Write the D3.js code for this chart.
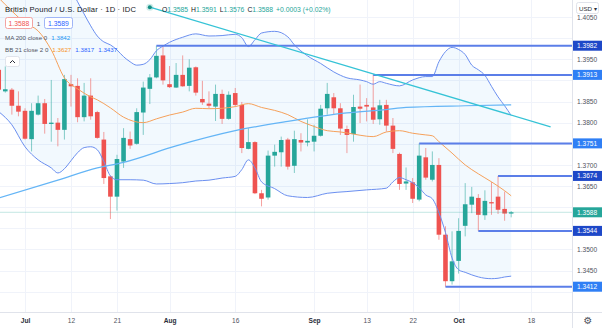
<!DOCTYPE html>
<html>
<head>
<meta charset="utf-8">
<script src="https://cdn.jsdelivr.net/npm/d3@7"></script>
<style>
  html, body { margin: 0; padding: 0; background: #ffffff; }
  svg { display: block; font-family: "Liberation Sans", Arial, sans-serif; }
</style>
</head>
<body>
<svg id="chart" width="602" height="328"></svg>
<script>
// Trading days shown on the time axis (the last few are empty future slots)
const days = [
  "2021-06-25","2021-06-28","2021-06-29","2021-06-30","2021-07-01","2021-07-02",
  "2021-07-05","2021-07-06","2021-07-07","2021-07-08","2021-07-09","2021-07-12",
  "2021-07-13","2021-07-14","2021-07-15","2021-07-16","2021-07-19","2021-07-20",
  "2021-07-21","2021-07-22","2021-07-23","2021-07-26","2021-07-27","2021-07-28",
  "2021-07-29","2021-07-30","2021-08-02","2021-08-03","2021-08-04","2021-08-05",
  "2021-08-06","2021-08-09","2021-08-10","2021-08-11","2021-08-12","2021-08-13",
  "2021-08-16","2021-08-17","2021-08-18","2021-08-19","2021-08-20","2021-08-23",
  "2021-08-24","2021-08-25","2021-08-26","2021-08-27","2021-08-30","2021-08-31",
  "2021-09-01","2021-09-02","2021-09-03","2021-09-06","2021-09-07","2021-09-08",
  "2021-09-09","2021-09-10","2021-09-13","2021-09-14","2021-09-15","2021-09-16",
  "2021-09-17","2021-09-20","2021-09-21","2021-09-22","2021-09-23","2021-09-24",
  "2021-09-27","2021-09-28","2021-09-29","2021-09-30","2021-10-01","2021-10-04",
  "2021-10-05","2021-10-06","2021-10-07","2021-10-08","2021-10-11","2021-10-12",
  "2021-10-13","2021-10-14","2021-10-15","2021-10-18","2021-10-19","2021-10-20",
  "2021-10-21","2021-10-22"
];

// Daily GBP/USD candles, one value per trading day from 2021-06-25
const opens = [
  1.3925,1.3874,1.3878,1.3840,1.3828,1.3761,1.3819,1.3846,1.3797,1.3800,
  1.3783,1.3891,1.3887,1.3813,1.3864,1.3825,1.3760,1.3673,1.3625,1.3708,
  1.3761,1.3750,1.3824,1.3880,1.3907,1.3959,1.3891,1.3883,1.3913,1.3887,
  1.3931,1.3856,1.3845,1.3838,1.3868,1.3809,1.3870,1.3842,1.3738,1.3754,
  1.3633,1.3623,1.3722,1.3730,1.3760,1.3698,1.3759,1.3753,1.3755,1.3769,
  1.3834,1.3860,1.3834,1.3785,1.3773,1.3838,1.3842,1.3836,1.3808,1.3842,
  1.3793,1.3726,1.3656,1.3659,1.3618,1.3718,1.3665,1.3700,1.3535,1.3425,
  1.3473,1.3556,1.3606,1.3622,1.3581,1.3612,1.3625,1.3596,1.3585
];
const highs = [
  1.3930,1.3933,1.3882,1.3874,1.3834,1.3846,1.3864,1.3856,1.3901,1.3811,
  1.3913,1.3913,1.3905,1.3894,1.3905,1.3828,1.3778,1.3675,1.3724,1.3787,
  1.3779,1.3834,1.3897,1.3915,1.3982,1.3979,1.3934,1.3941,1.3959,1.3950,
  1.3933,1.3899,1.3874,1.3890,1.3878,1.3874,1.3882,1.3849,1.3787,1.3756,
  1.3641,1.3734,1.3748,1.3767,1.3764,1.3781,1.3775,1.3808,1.3795,1.3842,
  1.3894,1.3870,1.3846,1.3793,1.3866,1.3890,1.3858,1.3913,1.3854,1.3854,
  1.3811,1.3729,1.3694,1.3669,1.3751,1.3740,1.3732,1.3716,1.3555,1.3543,
  1.3574,1.3657,1.3648,1.3631,1.3640,1.3660,1.3674,1.3637,1.3591
];
const lows = [
  1.3873,1.3871,1.3819,1.3815,1.3760,1.3732,1.3817,1.3774,1.3755,1.3744,
  1.3760,1.3838,1.3801,1.3803,1.3807,1.3762,1.3655,1.3572,1.3592,1.3693,
  1.3738,1.3748,1.3771,1.3844,1.3905,1.3890,1.3882,1.3882,1.3885,1.3874,
  1.3864,1.3842,1.3834,1.3804,1.3797,1.3807,1.3838,1.3728,1.3737,1.3631,
  1.3602,1.3618,1.3696,1.3696,1.3689,1.3681,1.3732,1.3744,1.3732,1.3767,
  1.3819,1.3820,1.3771,1.3728,1.3755,1.3799,1.3803,1.3797,1.3795,1.3779,
  1.3728,1.3641,1.3641,1.3610,1.3614,1.3665,1.3661,1.3523,1.3412,1.3417,
  1.3443,1.3531,1.3586,1.3544,1.3570,1.3582,1.3584,1.3568,1.3576
];
const closes = [
  1.3878,1.3879,1.3840,1.3826,1.3762,1.3828,1.3846,1.3797,1.3800,1.3783,
  1.3903,1.3886,1.3813,1.3864,1.3815,1.3764,1.3669,1.3625,1.3714,1.3764,
  1.3746,1.3825,1.3883,1.3907,1.3958,1.3900,1.3884,1.3913,1.3886,1.3930,
  1.3871,1.3848,1.3840,1.3868,1.3809,1.3866,1.3842,1.3740,1.3754,1.3633,
  1.3620,1.3722,1.3731,1.3759,1.3696,1.3761,1.3753,1.3757,1.3769,1.3833,
  1.3868,1.3834,1.3786,1.3771,1.3837,1.3833,1.3838,1.3807,1.3841,1.3793,
  1.3738,1.3655,1.3661,1.3620,1.3722,1.3670,1.3700,1.3535,1.3425,1.3472,
  1.3544,1.3607,1.3625,1.3582,1.3615,1.3609,1.3594,1.3585,1.3588
];

// Moving average (200, close)
const ma200 = [
  ["2021-06-25",1.3622],["2021-07-08",1.3664],["2021-07-16",1.3693],["2021-07-22",1.3706],
  ["2021-08-03",1.3745],["2021-08-16",1.3781],["2021-08-26",1.3803],["2021-09-08",1.3823],
  ["2021-09-16",1.3831],["2021-09-21",1.3836],["2021-10-04",1.3840],["2021-10-13",1.3842]
];

// Bollinger bands (21, 2): basis, upper and lower
const bbBasis = [
  ["2021-06-25",1.4095],["2021-06-29",1.4064],["2021-07-01",1.4036],["2021-07-05",1.4017],
  ["2021-07-07",1.3972],["2021-07-09",1.3906],["2021-07-13",1.3880],["2021-07-15",1.3861],
  ["2021-07-16",1.3854],["2021-07-20",1.3835],["2021-07-22",1.3813],["2021-07-27",1.3800],
  ["2021-07-29",1.3809],["2021-08-02",1.3818],["2021-08-04",1.3825],["2021-08-06",1.3834],
  ["2021-08-10",1.3833],["2021-08-12",1.3834],["2021-08-16",1.3838],["2021-08-18",1.3845],
  ["2021-08-20",1.3836],["2021-08-24",1.3829],["2021-08-26",1.3819],["2021-08-30",1.3803],
  ["2021-09-01",1.3791],["2021-09-03",1.3781],["2021-09-07",1.3778],["2021-09-09",1.3773],
  ["2021-09-13",1.3768],["2021-09-14",1.3767],["2021-09-16",1.3778],["2021-09-20",1.3781],
  ["2021-09-22",1.3775],["2021-09-24",1.3771],["2021-09-27",1.3769],["2021-09-28",1.3755],
  ["2021-09-30",1.3728],["2021-10-04",1.3700],["2021-10-06",1.3679],["2021-10-08",1.3660],
  ["2021-10-12",1.3639],["2021-10-13",1.3627]
];
const bbUpper = [
  ["2021-06-25",1.4250],["2021-07-05",1.4200],["2021-07-12",1.4116],["2021-07-13",1.4086],
  ["2021-07-14",1.4057],["2021-07-15",1.4029],["2021-07-16",1.4005],["2021-07-19",1.3991],
  ["2021-07-20",1.3984],["2021-07-21",1.3972],["2021-07-22",1.3956],["2021-07-23",1.3944],
  ["2021-07-26",1.3936],["2021-07-27",1.3938],["2021-07-28",1.3949],["2021-07-29",1.3970],
  ["2021-07-30",1.3981],["2021-08-02",1.3990],["2021-08-04",1.4002],["2021-08-06",1.4010],
  ["2021-08-10",1.4005],["2021-08-12",1.4006],["2021-08-16",1.4009],["2021-08-17",1.4001],
  ["2021-08-18",1.3980],["2021-08-19",1.3996],["2021-08-20",1.4012],["2021-08-24",1.4016],
  ["2021-08-26",1.4003],["2021-08-27",1.3984],["2021-08-31",1.3958],["2021-09-02",1.3940],
  ["2021-09-06",1.3920],["2021-09-08",1.3906],["2021-09-10",1.3901],["2021-09-13",1.3897],
  ["2021-09-14",1.3891],["2021-09-15",1.3897],["2021-09-16",1.3893],["2021-09-20",1.3887],
  ["2021-09-22",1.3901],["2021-09-24",1.3909],["2021-09-27",1.3909],["2021-09-28",1.3944],
  ["2021-09-29",1.3968],["2021-09-30",1.3978],["2021-10-01",1.3973],["2021-10-04",1.3961],
  ["2021-10-05",1.3936],["2021-10-06",1.3925],["2021-10-07",1.3912],["2021-10-08",1.3886],
  ["2021-10-11",1.3861],["2021-10-12",1.3840],["2021-10-13",1.3817]
];
const bbLower = [
  ["2021-06-25",1.3826],["2021-06-29",1.3795],["2021-07-01",1.3743],["2021-07-05",1.3712],
  ["2021-07-07",1.3693],["2021-07-08",1.3681],["2021-07-09",1.3691],["2021-07-12",1.3710],
  ["2021-07-13",1.3729],["2021-07-14",1.3741],["2021-07-15",1.3743],["2021-07-16",1.3736],
  ["2021-07-19",1.3708],["2021-07-20",1.3674],["2021-07-21",1.3665],["2021-07-23",1.3665],
  ["2021-07-27",1.3664],["2021-07-29",1.3655],["2021-08-02",1.3656],["2021-08-04",1.3658],
  ["2021-08-06",1.3662],["2021-08-10",1.3664],["2021-08-12",1.3669],["2021-08-16",1.3673],
  ["2021-08-17",1.3689],["2021-08-18",1.3712],["2021-08-19",1.3693],["2021-08-20",1.3660],
  ["2021-08-24",1.3644],["2021-08-26",1.3627],["2021-08-31",1.3623],["2021-09-03",1.3633],
  ["2021-09-08",1.3637],["2021-09-13",1.3641],["2021-09-16",1.3645],["2021-09-17",1.3660],
  ["2021-09-20",1.3670],["2021-09-21",1.3665],["2021-09-22",1.3658],["2021-09-23",1.3646],
  ["2021-09-24",1.3629],["2021-09-27",1.3620],["2021-09-28",1.3587],["2021-09-29",1.3540],
  ["2021-09-30",1.3480],["2021-10-01",1.3452],["2021-10-04",1.3446],["2021-10-05",1.3440],
  ["2021-10-07",1.3432],["2021-10-08",1.3431],["2021-10-11",1.3432],["2021-10-12",1.3435],
  ["2021-10-13",1.3437]
];

// Descending trend line
const trendLine = [["2021-07-28",1.4073],["2021-10-21",1.3790]];

// Horizontal support / resistance levels and the day each one starts
const levelDates  = ["2021-07-29","2021-09-14","2021-09-23","2021-10-11","2021-10-06","2021-09-29"];
const levelValues = [1.3982, 1.3913, 1.3751, 1.3674, 1.3544, 1.3412];

// Axis ticks
const priceTicks = [1.3400,1.3450,1.3500,1.3550,1.3600,1.3650,1.3700,1.3750,1.3800,1.3850,1.3900,1.3950,1.4000,1.4050];
const timeTickDates  = ["2021-07-01","2021-07-12","2021-07-21","2021-08-02","2021-08-16","2021-09-01","2021-09-13","2021-09-22","2021-10-01","2021-10-18"];
const timeTickLabels = ["Jul","12","21","Aug","16","Sep","13","22","Oct","18"];

// ---------------------------------------------------------------------------
const W = 602, H = 328, PLOT_R = 572, PLOT_B = 312;
const UP = "#26a69a", DOWN = "#ef5350";
const fmt = d3.format(".4f");

const svg = d3.select("#chart");
svg.append("defs").append("clipPath").attr("id", "plot-clip")
  .append("rect").attr("x", 0).attr("y", 0).attr("width", PLOT_R).attr("height", PLOT_B);

const dayIndex = new Map(days.map((d, i) => [d, i]));
const step = 6.57;
const x = d3.scaleLinear().domain([0, days.length - 1]).range([-1.28, -1.28 + (days.length - 1) * step]);
const y = d3.scaleLinear().domain([1.34, 1.40]).range([291.78, 38.1]);
const xd = d => x(dayIndex.get(d));

// grid
const grid = svg.append("g");
grid.selectAll("line.h").data(priceTicks).join("line")
  .attr("x1", 0).attr("x2", PLOT_R)
  .attr("y1", d => Math.round(y(d)) + 0.5).attr("y2", d => Math.round(y(d)) + 0.5)
  .attr("stroke", "#f0f3fa").attr("stroke-width", 1);
grid.selectAll("line.v").data(timeTickDates).join("line")
  .attr("x1", d => Math.round(xd(d)) + 0.5).attr("x2", d => Math.round(xd(d)) + 0.5)
  .attr("y1", 0).attr("y2", PLOT_B)
  .attr("stroke", "#f0f3fa").attr("stroke-width", 1);

const plot = svg.append("g").attr("clip-path", "url(#plot-clip)");

// Bollinger fill between upper and lower band
const ptLine = d3.line().x(p => xd(p[0])).y(p => y(p[1]));
const fillPts = bbUpper.concat(bbLower.slice().reverse());
plot.append("path").attr("d", ptLine(fillPts) + "Z")
  .attr("fill", "rgba(33,150,243,0.06)").attr("stroke", "none");

// candles
const candles = opens.map((o, i) => ({ d: days[i], o, h: highs[i], l: lows[i], c: closes[i] }));
const cg = plot.append("g");
cg.selectAll("line.wick").data(candles).join("line")
  .attr("x1", d => xd(d.d)).attr("x2", d => xd(d.d))
  .attr("y1", d => y(d.h)).attr("y2", d => y(d.l))
  .attr("stroke", d => d.c >= d.o ? UP : DOWN)
  .attr("stroke-opacity", 0.55).attr("stroke-width", 1);
cg.selectAll("rect.body").data(candles).join("rect")
  .attr("x", d => xd(d.d) - 2.3).attr("width", 4.6)
  .attr("y", d => y(Math.max(d.o, d.c)))
  .attr("height", d => Math.max(1.2, Math.abs(y(d.o) - y(d.c))))
  .attr("fill", d => d.c >= d.o ? UP : DOWN);

// indicator lines
const smooth = d3.line().x(p => xd(p[0])).y(p => y(p[1])).curve(d3.curveMonotoneX);
plot.append("path").attr("d", smooth(bbUpper)).attr("fill", "none").attr("stroke", "#6b8ff0").attr("stroke-width", 1);
plot.append("path").attr("d", smooth(bbLower)).attr("fill", "none").attr("stroke", "#6b8ff0").attr("stroke-width", 1);
plot.append("path").attr("d", smooth(bbBasis)).attr("fill", "none").attr("stroke", "#f6a15b").attr("stroke-width", 1);
plot.append("path").attr("d", smooth(ma200)).attr("fill", "none").attr("stroke", "#64b5f6").attr("stroke-width", 1.2);

// last price line
const last = closes[closes.length - 1];
plot.append("line").attr("x1", 0).attr("x2", PLOT_R)
  .attr("y1", y(last)).attr("y2", y(last))
  .attr("stroke", "rgba(38,166,154,0.28)").attr("stroke-width", 1);

// horizontal levels
plot.selectAll("line.level").data(levelValues).join("line")
  .attr("x1", (d, i) => xd(levelDates[i])).attr("x2", PLOT_R)
  .attr("y1", d => y(d)).attr("y2", d => y(d))
  .attr("stroke", "#5b7ee8").attr("stroke-width", 2);

// trend line
plot.append("path").attr("d", ptLine(trendLine)).attr("fill", "none")
  .attr("stroke", "#35c3d6").attr("stroke-width", 1.3);
plot.append("circle").attr("cx", xd(trendLine[0][0])).attr("cy", y(trendLine[0][1]))
  .attr("r", 3.6).attr("fill", "rgba(38,166,154,0.22)");
plot.append("circle").attr("cx", xd(trendLine[0][0])).attr("cy", y(trendLine[0][1]))
  .attr("r", 2).attr("fill", "#138f84");

// axes frame
svg.append("line").attr("x1", PLOT_R + 0.5).attr("x2", PLOT_R + 0.5).attr("y1", 0).attr("y2", H)
  .attr("stroke", "#e0e3eb");
svg.append("line").attr("x1", 0).attr("x2", W).attr("y1", PLOT_B + 0.5).attr("y2", PLOT_B + 0.5)
  .attr("stroke", "#e0e3eb");

// price axis: tick labels that would sit under a level badge are left out
const badgeValues = levelValues.concat([last]);
const freeTicks = priceTicks.filter(t => badgeValues.every(v => Math.abs(y(t) - y(v)) > 9));
const yAxis = d3.axisRight(y).tickValues(freeTicks).tickFormat(fmt).tickSize(0).tickPadding(5);
const ya = svg.append("g").attr("transform", `translate(${PLOT_R},0)`).call(yAxis);
ya.select(".domain").remove();
ya.selectAll("text").attr("font-size", 6.6).attr("fill", "#50535e")
  .attr("font-family", "Liberation Sans, Arial, sans-serif");

// time axis
const xAxis = d3.axisBottom(x).tickValues(timeTickDates.map(d => dayIndex.get(d)))
  .tickFormat((d, i) => timeTickLabels[i]).tickSize(0).tickPadding(5);
const xa = svg.append("g").attr("transform", `translate(0,${PLOT_B + 1})`).call(xAxis);
xa.select(".domain").remove();
xa.selectAll("text").attr("font-size", 6.6)
  .attr("font-family", "Liberation Sans, Arial, sans-serif")
  .attr("font-weight", (d, i) => isNaN(+timeTickLabels[i]) ? "bold" : "normal")
  .attr("fill", (d, i) => isNaN(+timeTickLabels[i]) ? "#2a2e39" : "#50535e");

// level badges on the price axis
const levelFill = ["#1e48c8", "#2f7ff5", "#2f7ff5", "#1e48c8", "#1e48c8", "#2f7ff5"];
const lab = svg.append("g");
levelValues.forEach((v, i) => {
  lab.append("rect").attr("x", PLOT_R + 1).attr("y", y(v) - 5).attr("width", W - PLOT_R - 1).attr("height", 10)
    .attr("fill", levelFill[i]);
  lab.append("text").attr("x", PLOT_R + 5).attr("y", y(v)).attr("dy", "0.35em")
    .attr("font-size", 6.6).attr("fill", "#ffffff").text(fmt(v));
});
lab.append("rect").attr("x", PLOT_R + 1).attr("y", y(last) - 5).attr("width", W - PLOT_R - 1).attr("height", 10)
  .attr("fill", UP);
lab.append("text").attr("x", PLOT_R + 5).attr("y", y(last)).attr("dy", "0.35em")
  .attr("font-size", 6.6).attr("fill", "#ffffff").text(fmt(last));

// currency selector
svg.append("rect").attr("x", 576.5).attr("y", 2.5).attr("width", 22).attr("height", 11).attr("rx", 2)
  .attr("fill", "#ffffff").attr("stroke", "#e0e3eb");
svg.append("text").attr("x", 579).attr("y", 10.5).attr("font-size", 6.2).attr("fill", "#2a2e39").text("USD \u25BE");

// settings gear
svg.append("text").attr("x", 588).attr("y", 323.5).attr("text-anchor", "middle")
  .attr("font-family", "DejaVu Sans").attr("font-size", 10).attr("fill", "#50535e").text("\u2699");

// legend
const leg = svg.append("g").attr("font-family", "Liberation Sans, Arial, sans-serif");
leg.append("text").attr("x", 5).attr("y", 12).attr("font-size", 7.6).attr("fill", "#131722")
  .attr("textLength", 131).attr("lengthAdjust", "spacing")
  .text("British Pound / U.S. Dollar \u00B7 1D \u00B7 IDC");

const c0 = candles[candles.length - 1];
const prev = closes[closes.length - 2];
const ohlc = leg.append("text").attr("x", 162).attr("y", 12).attr("font-size", 6.8);
[["O", c0.o], ["H", c0.h], ["L", c0.l], ["C", c0.c]].forEach(([k, v], i) => {
  ohlc.append("tspan").attr("fill", "#131722").attr("dx", i ? 3 : 0).text(k);
  ohlc.append("tspan").attr("fill", UP).text(fmt(v));
});
const chg = c0.c - prev;
ohlc.append("tspan").attr("fill", UP).attr("dx", 3)
  .text(`${chg >= 0 ? "+" : ""}${fmt(chg)} (${chg >= 0 ? "+" : ""}${(chg / prev * 100).toFixed(2)}%)`);

// bid / ask boxes
leg.append("rect").attr("x", 5.5).attr("y", 17.5).attr("width", 27).attr("height", 11).attr("rx", 2)
  .attr("fill", "#ffffff").attr("stroke", "#f3a3a1");
leg.append("text").attr("x", 19).attr("y", 25.5).attr("text-anchor", "middle").attr("font-size", 6.8)
  .attr("fill", DOWN).text(fmt(last));
leg.append("text").attr("x", 38.5).attr("y", 25.5).attr("text-anchor", "middle").attr("font-size", 6.2)
  .attr("fill", "#50535e").text("1");
leg.append("rect").attr("x", 44.5).attr("y", 17.5).attr("width", 28).attr("height", 11).attr("rx", 2)
  .attr("fill", "#ffffff").attr("stroke", "#9fb5f7");
leg.append("text").attr("x", 58.5).attr("y", 25.5).attr("text-anchor", "middle").attr("font-size", 6.8)
  .attr("fill", "#2962ff").text(fmt(last + 0.0001));

// indicator legends
const ma = leg.append("text").attr("x", 5).attr("y", 39.5).attr("font-size", 6.2);
ma.append("tspan").attr("fill", "#50535e").text("MA 200 close 0");
ma.append("tspan").attr("fill", "#2196f3").attr("dx", 4).text(fmt(ma200[ma200.length - 1][1]));

const bb = leg.append("text").attr("x", 5).attr("y", 51.5).attr("font-size", 6.2);
bb.append("tspan").attr("fill", "#50535e").text("BB 21 close 2 0");
bb.append("tspan").attr("fill", "#f7931e").attr("dx", 4).text(fmt(bbBasis[bbBasis.length - 1][1]));
bb.append("tspan").attr("fill", "#2962ff").attr("dx", 4).text(fmt(bbUpper[bbUpper.length - 1][1]));
bb.append("tspan").attr("fill", "#2962ff").attr("dx", 4).text(fmt(bbLower[bbLower.length - 1][1]));

// collapse button
leg.append("rect").attr("x", 5.5).attr("y", 56.5).attr("width", 14).attr("height", 10).attr("rx", 2)
  .attr("fill", "#ffffff").attr("stroke", "#e0e3eb");
leg.append("path").attr("d", "M10,63 L12.5,60.5 L15,63").attr("fill", "none")
  .attr("stroke", "#2a2e39").attr("stroke-width", 1);
</script>
</body>
</html>
